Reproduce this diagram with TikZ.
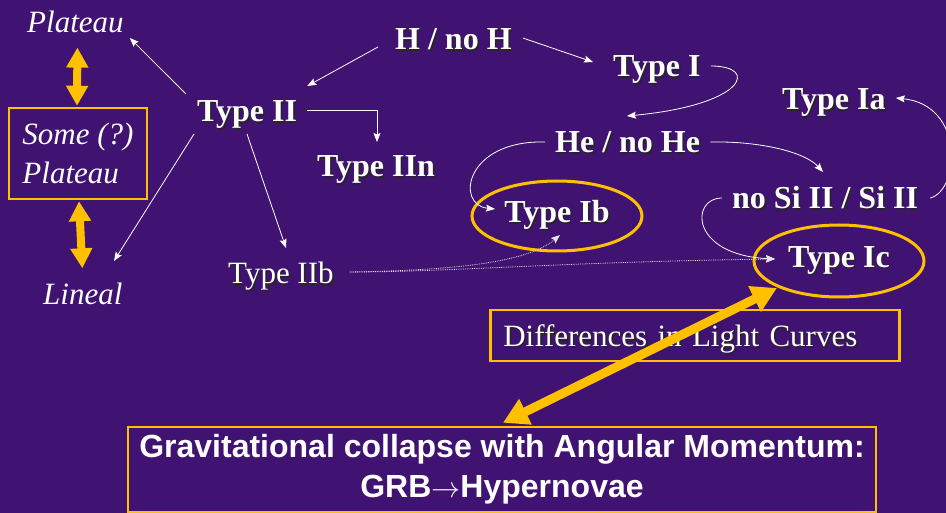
\documentclass[tikz,border=0pt]{standalone}
\usepackage{graphicx}
\usepackage{fontspec}
\setmainfont{Liberation Serif}
\newfontfamily\lsans{Liberation Sans}
\usetikzlibrary{arrows.meta,shapes.geometric}
\definecolor{bgpurple}{RGB}{64,18,114}
\definecolor{gold}{RGB}{255,192,0}
\newcommand{\shd}[1]{\makebox[0pt][l]{\hspace{1.5pt}\raisebox{-1.5pt}{\color{black!85}#1}}#1}
\begin{document}
\begin{tikzpicture}[x=1pt,y=-1pt,
  txt/.style={text=white, inner sep=0pt, anchor=base west, font=\fontsize{31}{36}\selectfont},
  btxt/.style={txt, font=\fontsize{32}{36}\selectfont\bfseries},
  itxt/.style={txt, font=\fontsize{31}{39}\selectfont\itshape},
  oval/.style={ellipse, draw=gold, line width=3pt, text=white, inner sep=0pt, font=\fontsize{32}{36}\selectfont\bfseries},
  wire/.style={draw=white, line width=0.8pt, -{Stealth[length=9pt,width=7pt,inset=1.5pt]}},
  dots/.style={draw=white!80!gray, line width=0.8pt, densely dotted, -{Stealth[length=9pt,width=7pt,inset=1.5pt]}},
  garrow/.style={draw=gold, line width=8pt, {Triangle[length=20pt,width=21pt]}-{Triangle[length=20pt,width=21pt]}},
  bigarrow/.style={draw=gold, line width=9pt, {Triangle[length=25pt,width=27pt]}-{Triangle[length=25pt,width=27pt]}},
  gbox/.style={draw=gold, line width=2.5pt, text=white}
]
\fill[bgpurple] (0,0) rectangle (946,513);
\useasboundingbox (0,0) rectangle (946,513);

% nodes
\node[itxt] (plateau) at (27,33) {Plateau};
\node[gbox, minimum width=138pt, minimum height=91pt, inner sep=0pt, align=left,
      font=\fontsize{31}{39}\selectfont\itshape] (some) at (78,153.5) {\raisebox{-1.5pt}{Some (?)}\\\raisebox{-1.5pt}{Plateau}};
\node[itxt] (lineal) at (43,305) {Lineal};
\node[btxt] (typeII) at (197,122) {\shd{Type II}};
\node[btxt] (hnoh) at (395,50) {\shd{H / no H}};
\node[btxt] (typeI) at (613,77) {\shd{Type I}};
\node[btxt] (typeIIn) at (317,177) {\shd{Type IIn}};
\node[btxt] (heno) at (555,153) {\shd{He / no He}};
\node[btxt] (typeIa) at (782,110) {\shd{Type Ia}};
\node[btxt] (nosi) at (732,209) {\shd{no Si II / Si II}};
\node[oval, minimum width=170pt, minimum height=70pt] (typeIb) at (557,216) {\shd{Type Ib}};
\node[oval, minimum width=170pt, minimum height=72pt] (typeIc) at (839,261) {\shd{Type Ic}};
\node[txt] (typeIIb) at (228,284) {\shd{Type IIb}};
\node[gbox, anchor=base west, inner xsep=13pt, inner ysep=4pt, text height=33pt, text depth=10pt,
      text width=383pt, align=left, font=\fontsize{31}{36}\selectfont] (diff) at (489,347) {\shd{Differences in Light Curves}};
\node[gbox, align=center, font=\lsans\bfseries\fontsize{32}{40}\selectfont, minimum width=748pt,
      minimum height=85pt, inner sep=0pt] (grav) at (502,469.5)
      {Gravitational collapse with Angular Momentum:\\GRB\resizebox{29pt}{!}{$\rightarrow$}Hypernovae};

% white connectors
\draw[wire] ([shift={(-11,-28)}]typeII.base west) -- ([shift={(6,5)}]plateau.base east);
\draw[wire] ([shift={(-3,12)}]typeII.base west) -- ([shift={(71,-44)}]lineal.base west);
\draw[wire] ([shift={(50,12)}]typeII.base west) -- ([shift={(58,-36)}]typeIIb.base west);
\draw[wire] ([shift={(-17,-3)}]hnoh.base west) -- ([shift={(10,-36)}]typeII.base east);
\draw[wire] ([shift={(11,-12)}]hnoh.base east) -- ([shift={(-20,-15)}]typeI.base west);
\draw[wire] ([shift={(10,-12)}]typeII.base east) -| ([shift={(60,-35)}]typeIIn.base west);
\draw[wire] ([shift={(10,-11)}]typeI.base east) .. controls (760,66) and (745,105) .. ([shift={(72,-37)}]heno.base west);
\draw[wire] ([shift={(10,-11)}]heno.base east) .. controls (760,141) and (805,152) .. ([shift={(91,-37)}]nosi.base west);
\draw[wire] ([shift={(-10,-11)}]heno.base west) .. controls (465,140) and (455,205) .. ([shift={(-62,-7)}]typeIb.center);
\draw[wire] ([shift={(12,-11)}]nosi.base east) .. controls (960,190) and (965,105) .. ([shift={(10,-12)}]typeIa.base east);
\draw[wire] ([shift={(-10,-11)}]nosi.base west) .. controls (690,198) and (690,255) .. ([shift={(-64,-2)}]typeIc.center);
\draw[dots] ([shift={(16,-12)}]typeIIb.base east) .. controls (470,270) and (530,260) .. ([shift={(3,19)}]typeIb.center);
\draw[dots] ([shift={(16,-12)}]typeIIb.base east) .. controls (450,272) and (560,262) .. ([shift={(-64,-2)}]typeIc.center);

% gold arrows
\draw[garrow] ([shift={(2,14)}]plateau.south) -- ([shift={(-1,-1)}]some.north);
\draw[garrow] ([shift={(1,1)}]some.south) -- ([shift={(-0.5,-15)}]lineal.north);
\draw[bigarrow] ([shift={(1,-3)}]grav.north) -- ([shift={(-62,27)}]typeIc.center);
\end{tikzpicture}
\end{document}
